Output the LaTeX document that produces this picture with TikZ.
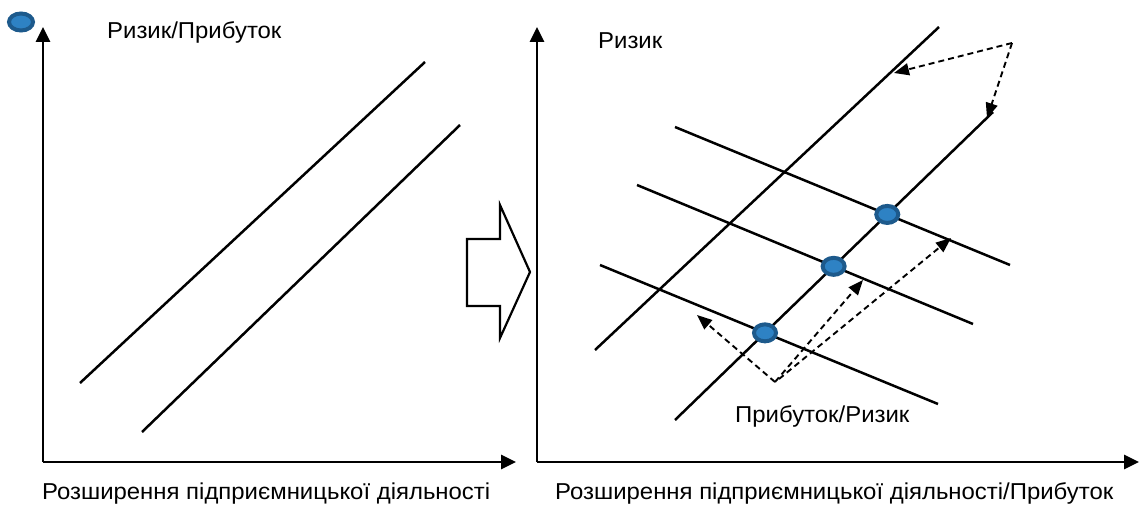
\documentclass[tikz,border=0pt]{standalone}
\usepackage{fontspec}
\setmainfont{Liberation Sans}[FakeStretch=1.04]
\usetikzlibrary{arrows.meta,shapes.geometric}
\definecolor{dotout}{HTML}{1D5A8C}
\definecolor{dotin}{HTML}{2E82C4}
\begin{document}
\begin{tikzpicture}[x=1pt,y=-1pt,
  axis/.style={line width=2.8pt,-{Triangle[length=15pt,width=14pt]}},
  ln/.style={line width=2.5pt},
  dsh/.style={line width=1.9pt,dash pattern=on 6pt off 4pt,-{Triangle[length=15pt,width=12pt]}},
  lbl/.style={font=\fontsize{23}{25}\selectfont,anchor=base west,inner sep=0pt},
  dot/.style={ellipse,draw=dotout,fill=dotin,line width=4pt,minimum width=22pt,minimum height=17pt,inner sep=0pt}]
\useasboundingbox (0,0) rectangle (1140,508);
% left panel
\coordinate (lo) at (43,462);
\coordinate (ly) at (43,27);
\coordinate (lx) at (516,462);
\draw[axis] (lo) -- (ly);
\draw[axis] (lo) -- (lx);
\coordinate (la1) at (80,383);
\coordinate (la2) at (425,62);
\coordinate (lb1) at (142,432);
\coordinate (lb2) at (460,125);
\draw[ln] (la1) -- (la2);
\draw[ln] (lb1) -- (lb2);
\node[dot,minimum width=24pt,minimum height=17pt] (d0) at (21,22) {};
\node[lbl] (t1) at (107,39) {Ризик/Прибуток};
\node[lbl] (t2) at (42,499) {Розширення підприємницької діяльності};
% block arrow
\draw[line width=2.2pt,line join=miter] (467,239) -- (500,239) -- (500,205) -- (530,272) -- (500,338) -- (500,306) -- (467,306) -- cycle;
% right panel
\coordinate (ro) at (537,462);
\coordinate (ry) at (537,27);
\coordinate (rx) at (1139,462);
\draw[axis] (ro) -- (ry);
\draw[axis] (ro) -- (rx);
\coordinate (p1) at (595,350);
\coordinate (p2) at (939,27);
\coordinate (q1) at (675,420);
\coordinate (q2) at (993,112);
\draw[ln] (p1) -- (p2);
\draw[ln] (q1) -- (q2);
\coordinate (h1a) at (675,127);
\coordinate (h1b) at (1010,265);
\coordinate (h2a) at (637,185);
\coordinate (h2b) at (973,324);
\coordinate (h3a) at (600,265);
\coordinate (h3b) at (938,404);
\draw[ln] (h1a) -- (h1b);
\draw[ln] (h2a) -- (h2b);
\draw[ln] (h3a) -- (h3b);
\node[dot] (d1) at (intersection of q1--q2 and h1a--h1b) {};
\node[dot] (d2) at (intersection of q1--q2 and h2a--h2b) {};
\node[dot] (d3) at (intersection of q1--q2 and h3a--h3b) {};
% dashed arrows
\coordinate (P) at (1012,43);
\coordinate (pa) at (894,73);
\coordinate (pb) at (987,118);
\draw[dsh] (P) -- (pa);
\draw[dsh] (P) -- (pb);
\coordinate (Q) at (775,382);
\coordinate (Q2) at (779,379);
\coordinate (qa) at (697,315);
\coordinate (qb) at (863,280);
\coordinate (qc) at (951,238);
\draw[dsh] (Q) -- (qa);
\draw[dsh] (Q) -- (qb);
\draw[dsh] (Q2) -- (qc);
\node[lbl] (t3) at (598,49) {Ризик};
\node[lbl] (t4) at (735,422) {Прибуток/Ризик};
\node[lbl] (t5) at (555,499) {Розширення підприємницької діяльності/Прибуток};
\end{tikzpicture}
\end{document}
